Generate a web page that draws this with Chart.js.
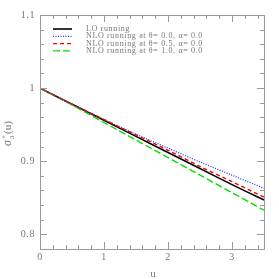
<!DOCTYPE html>
<html>
<head>
<meta charset="utf-8">
<script src="https://cdn.jsdelivr.net/npm/chart.js@4"></script>
<style>
  html, body { margin: 0; padding: 0; background: #fff; }
  #wrap { width: 279px; height: 279px; }
</style>
</head>
<body>
<div id="wrap"><canvas id="c" width="279" height="279"></canvas></div>
<script>
// values
const uValues = [0, 0.5, 1, 1.5, 2, 2.5, 3, 3.5];
const loRunning = [1, 0.978, 0.956, 0.934, 0.912, 0.890, 0.868, 0.847];
const nloTheta00 = [1, 0.978, 0.957, 0.937, 0.918, 0.899, 0.881, 0.863];
const nloTheta05 = [1, 0.978, 0.957, 0.936, 0.915, 0.893, 0.872, 0.851];
const nloTheta10 = [1, 0.977, 0.953, 0.929, 0.905, 0.881, 0.857, 0.833];
const seriesNames = [
    'LO running',
    'NLO running at \u03b8= 0.0, \u03b1= 0.0',
    'NLO running at \u03b8= 0.5, \u03b1= 0.0',
    'NLO running at \u03b8= 1.0, \u03b1= 0.0'
];
const xTickValues = [0, 1, 2, 3];
const yTickValues = [0.8, 0.9, 1, 1.1];

const axisGray = '#9a9a9a';
const labelGray = '#777';
const serif = '"Liberation Serif", "DejaVu Serif", serif';

function pts(ys) {
    return uValues.map((u, i) => ({ x: u, y: ys[i] }));
}

// frame, inward ticks on all four sides, axis titles, legend
const framePlugin = {
    id: 'frame',
    afterDraw(chart) {
        const ctx = chart.ctx;
        const a = chart.chartArea;
        const xs = chart.scales.x;
        const ys = chart.scales.y;
        ctx.save();
        ctx.strokeStyle = axisGray;
        ctx.lineWidth = 1;
        ctx.setLineDash([]);
        ctx.strokeRect(a.left + 0.5, a.top + 0.5, a.right - a.left, a.bottom - a.top);

        ctx.beginPath();
        for (let v = 0; v <= 3.5001; v += 0.2) {
            const px = Math.round(xs.getPixelForValue(v)) + 0.5;
            const major = Math.abs(v - Math.round(v)) < 1e-6;
            const len = major ? 7 : 4;
            ctx.moveTo(px, a.bottom); ctx.lineTo(px, a.bottom - len);
            ctx.moveTo(px, a.top); ctx.lineTo(px, a.top + len);
        }
        for (let v = 0.78; v <= 1.1001; v += 0.02) {
            const py = Math.round(ys.getPixelForValue(v)) + 0.5;
            const major = Math.abs(v * 10 - Math.round(v * 10)) < 1e-6;
            const len = major ? 7 : 4;
            ctx.moveTo(a.left, py); ctx.lineTo(a.left + len, py);
            ctx.moveTo(a.right, py); ctx.lineTo(a.right - len, py);
        }
        ctx.stroke();

        // tick labels
        ctx.fillStyle = labelGray;
        ctx.font = '10px ' + serif;
        ctx.letterSpacing = '0.6px';
        ctx.textBaseline = 'middle';
        ctx.textAlign = 'right';
        yTickValues.forEach(v => {
            ctx.fillText(String(v), a.left - 5, ys.getPixelForValue(v));
        });
        ctx.textAlign = 'center';
        xTickValues.forEach(v => {
            ctx.fillText(String(v), xs.getPixelForValue(v), a.bottom + 8);
        });
        ctx.letterSpacing = '0px';

        // axis titles
        ctx.font = '11px ' + serif;
        ctx.fillText('u', 153, 274);

        ctx.save();
        ctx.translate(8, 124);
        ctx.rotate(-Math.PI / 2);
        ctx.textAlign = 'left';
        ctx.font = 'italic 12px ' + serif;
        ctx.fillText('\u03c3', -22, 0);
        ctx.font = '7px ' + serif;
        ctx.fillText('+', -15, -4);
        ctx.fillText('3', -15, 4);
        ctx.font = '11px ' + serif;
        ctx.fillText('(u)', -10, 0);
        ctx.restore();

        // legend
        ctx.font = '8px ' + serif;
        ctx.letterSpacing = '0.65px';
        ctx.textAlign = 'left';
        chart.data.datasets.forEach((ds, i) => {
            const y = 29 + i * 7.3;
            ctx.strokeStyle = ds.borderColor;
            ctx.lineWidth = ds.borderWidth;
            ctx.setLineDash(ds.borderDash || []);
            ctx.beginPath();
            ctx.moveTo(53, y); ctx.lineTo(72, y);
            ctx.stroke();
            ctx.fillStyle = labelGray;
            ctx.fillText(ds.label, 86, y);
        });
        ctx.restore();
    }
};

new Chart(document.getElementById('c'), {
    type: 'line',
    data: {
        datasets: [
            { label: seriesNames[0], data: pts(loRunning), borderColor: '#000', borderWidth: 1.6, order: 3 },
            { label: seriesNames[1], data: pts(nloTheta00), borderColor: '#2a2aff', borderWidth: 1.2, borderDash: [1, 1.5], order: 1 },
            { label: seriesNames[2], data: pts(nloTheta05), borderColor: '#ff0000', borderWidth: 1.4, borderDash: [4, 3], order: 0 },
            { label: seriesNames[3], data: pts(nloTheta10), borderColor: '#00e000', borderWidth: 1.4, borderDash: [7, 3], order: 2 }
        ]
    },
    options: {
        responsive: false,
        animation: false,
        devicePixelRatio: 1,
        elements: { point: { radius: 0 }, line: { tension: 0.3, fill: false } },
        layout: { padding: { top: 15, right: 15, left: 0, bottom: 0 } },
        plugins: { legend: { display: false }, tooltip: { enabled: false } },
        scales: {
            x: {
                type: 'linear', min: 0, max: 3.5,
                grid: { display: false }, border: { display: false },
                afterFit: s => { s.height = 30; },
                ticks: { display: false }
            },
            y: {
                type: 'linear', min: 0.78, max: 1.1,
                grid: { display: false }, border: { display: false },
                afterFit: s => { s.width = 40; },
                ticks: { display: false }
            }
        }
    },
    plugins: [framePlugin]
});
</script>
</body>
</html>
